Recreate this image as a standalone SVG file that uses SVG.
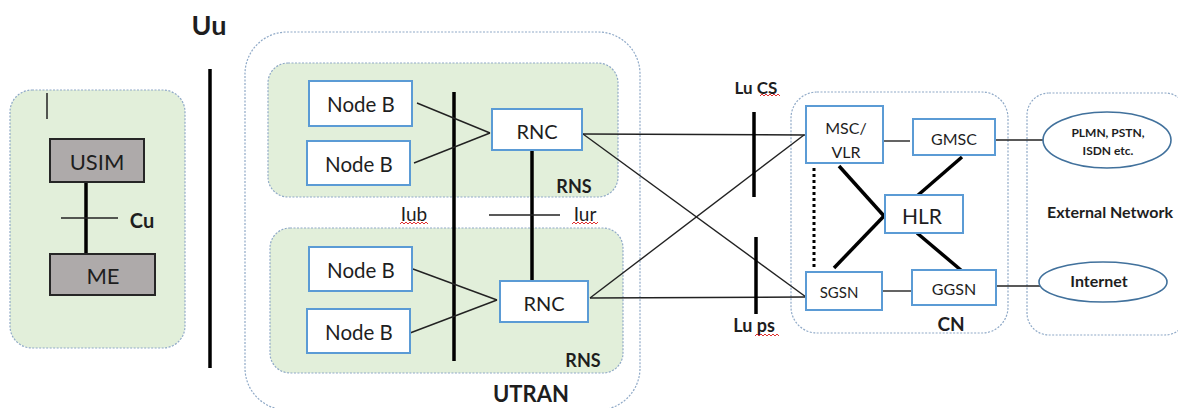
<svg xmlns="http://www.w3.org/2000/svg" width="1178" height="408" viewBox="0 0 1178 408">
<style>
text{font-family:Lato,"Liberation Sans",sans-serif;fill:#1e1e1e;text-anchor:middle;dominant-baseline:central}
.b{font-weight:bold}
.grp{fill:#e2efda;stroke:#8fa9c7;stroke-width:1.2;stroke-dasharray:2 1.5}
.out{fill:#fff;stroke:#8fa9c7;stroke-width:1.2;stroke-dasharray:2 1.5}
.nd{fill:#fff;stroke:#5b9bd5;stroke-width:2}
.gr{fill:#aeaaaa;stroke:#262626;stroke-width:2}
.el{fill:#fff;stroke:#41719c;stroke-width:1.6}
.thin{stroke:#222;stroke-width:1.4;fill:none}
.thick{stroke:#000;stroke-width:3.5;fill:none}
.sq{stroke:#e03030;stroke-width:1;fill:none}
</style>
<rect width="1178" height="408" fill="#fff"/>
<g id="ue-area">
<rect class="grp" x="10" y="90" width="175" height="258" rx="22"/>
<line x1="47" y1="93" x2="47" y2="119" stroke="#222" stroke-width="1.5"/>
</g>
<g id="utran-area">
<rect class="out" x="245" y="32" width="395" height="378" rx="42"/>
<text class="b" x="531" y="393" font-size="22">UTRAN</text>
</g>
<g id="rns-top">
<rect class="grp" x="268" y="63" width="350" height="134" rx="20"/>
<text class="b" x="574" y="186" font-size="18">RNS</text>
</g>
<g id="rns-bottom">
<rect class="grp" x="270" y="228" width="353" height="145" rx="20"/>
<text class="b" x="583" y="360" font-size="18">RNS</text>
</g>
<g id="cn-area">
<rect class="out" x="791" y="92" width="217" height="241" rx="26"/>
<text class="b" x="951" y="323" font-size="19">CN</text>
</g>
<g id="external-area">
<rect class="out" x="1027" y="93" width="160" height="242" rx="22"/>
<text class="b" x="1110" y="211" font-size="16">External Network</text>
</g>
<g id="connectors">
<line class="thick" x1="86" y1="182" x2="86" y2="257"/>
<line class="thin" x1="61" y1="218" x2="118" y2="218"/>
<line class="thick" x1="210" y1="69" x2="210" y2="368"/>
<line class="thick" x1="454" y1="92" x2="454" y2="361"/>
<line class="thin" x1="417" y1="103" x2="490" y2="133"/>
<line class="thin" x1="414" y1="163" x2="490" y2="133"/>
<line class="thin" x1="413" y1="269" x2="497" y2="300"/>
<line class="thin" x1="410" y1="333" x2="497" y2="300"/>
<line class="thick" x1="532" y1="150" x2="532" y2="281"/>
<line class="thin" x1="489" y1="215" x2="560" y2="215"/>
<line class="thin" x1="583" y1="134" x2="806" y2="135"/>
<line class="thin" x1="583" y1="134" x2="806" y2="297"/>
<line class="thin" x1="590" y1="298" x2="804" y2="135"/>
<line class="thin" x1="590" y1="298" x2="806" y2="297"/>
<line class="thick" x1="754" y1="112" x2="754" y2="197"/>
<line class="thick" x1="756" y1="237" x2="756" y2="314"/>
<line class="thin" x1="878" y1="141" x2="910" y2="141"/>
<line class="thin" x1="882" y1="291" x2="912" y2="291"/>
<line x1="814" y1="168" x2="814" y2="268" stroke="#000" stroke-width="3" stroke-dasharray="3 3"/>
<line class="thick" x1="839" y1="166" x2="884" y2="216"/>
<line class="thick" x1="834" y1="268" x2="884" y2="216"/>
<line class="thick" x1="962" y1="157" x2="917" y2="196"/>
<line class="thick" x1="917" y1="233" x2="962" y2="271"/>
<line class="thin" x1="995" y1="140" x2="1043" y2="140"/>
<line class="thin" x1="996" y1="286" x2="1042" y2="286"/>
</g>
<g id="labels">
<text class="b" x="209" y="24" font-size="27">Uu</text>
<text class="b" x="142" y="220" font-size="20">Cu</text>
<text x="414" y="213" font-size="19">Iub</text>
<path class="sq" d="M400 224 l2 -2 l2 2 l2 -2 l2 2 l2 -2 l2 2 l2 -2 l2 2 l2 -2 l2 2 l2 -2 l2 2 l2 -2 l2 2"/>
<text x="585" y="213" font-size="19">Iur</text>
<path class="sq" d="M572 224 l2 -2 l2 2 l2 -2 l2 2 l2 -2 l2 2 l2 -2 l2 2 l2 -2 l2 2 l2 -2 l2 2 l2 -2"/>
<text class="b" x="756" y="87" font-size="17">Lu CS</text>
<path class="sq" d="M760 96 l2 -2 l2 2 l2 -2 l2 2 l2 -2 l2 2 l2 -2 l2 2 l2 -2 l2 2"/>
<text class="b" x="754" y="325" font-size="18">Lu ps</text>
<path class="sq" d="M755 336 l2 -2 l2 2 l2 -2 l2 2 l2 -2 l2 2 l2 -2 l2 2 l2 -2 l2 2 l2 -2 l2 2"/>
</g>
<g id="usim"><rect class="gr" x="50" y="139" width="94" height="43"/><text x="97" y="161" font-size="22">USIM</text></g>
<g id="me"><rect class="gr" x="50" y="254" width="105" height="41"/><text x="103" y="275" font-size="22">ME</text></g>
<g id="nodeb1"><rect class="nd" x="309" y="81" width="103" height="45"/><text x="361" y="104" font-size="20.5">Node B</text></g>
<g id="nodeb2"><rect class="nd" x="307" y="141" width="103" height="44"/><text x="359" y="164" font-size="20.5">Node B</text></g>
<g id="nodeb3"><rect class="nd" x="309" y="247" width="103" height="44"/><text x="361" y="270" font-size="20.5">Node B</text></g>
<g id="nodeb4"><rect class="nd" x="307" y="309" width="103" height="44"/><text x="359" y="332" font-size="20.5">Node B</text></g>
<g id="rnc1"><rect class="nd" x="492" y="109" width="90" height="41"/><text x="537" y="131" font-size="20">RNC</text></g>
<g id="rnc2"><rect class="nd" x="500" y="281" width="88" height="41"/><text x="544" y="303" font-size="20">RNC</text></g>
<g id="msc-vlr"><rect class="nd" x="806" y="106" width="77" height="57"/><text x="846" y="127" font-size="16">MSC/</text><text x="846" y="151" font-size="16">VLR</text></g>
<g id="gmsc"><rect class="nd" x="913" y="119" width="82" height="36"/><text x="954" y="138" font-size="16">GMSC</text></g>
<g id="hlr"><rect class="nd" x="885" y="195" width="78" height="38"/><text x="922" y="215" font-size="21">HLR</text></g>
<g id="sgsn"><rect class="nd" x="806" y="272" width="76" height="38"/><text x="839" y="292" font-size="15">SGSN</text></g>
<g id="ggsn"><rect class="nd" x="912" y="270" width="84" height="35"/><text x="954" y="288" font-size="16">GGSN</text></g>
<g id="plmn"><ellipse class="el" cx="1107" cy="140" rx="64" ry="28"/><text class="b" x="1108" y="132" font-size="12">PLMN, PSTN,</text><text class="b" x="1108" y="150" font-size="12">ISDN etc.</text></g>
<g id="internet"><ellipse class="el" cx="1103" cy="282" rx="64" ry="20"/><text class="b" x="1099" y="280" font-size="16">Internet</text></g>
</svg>
